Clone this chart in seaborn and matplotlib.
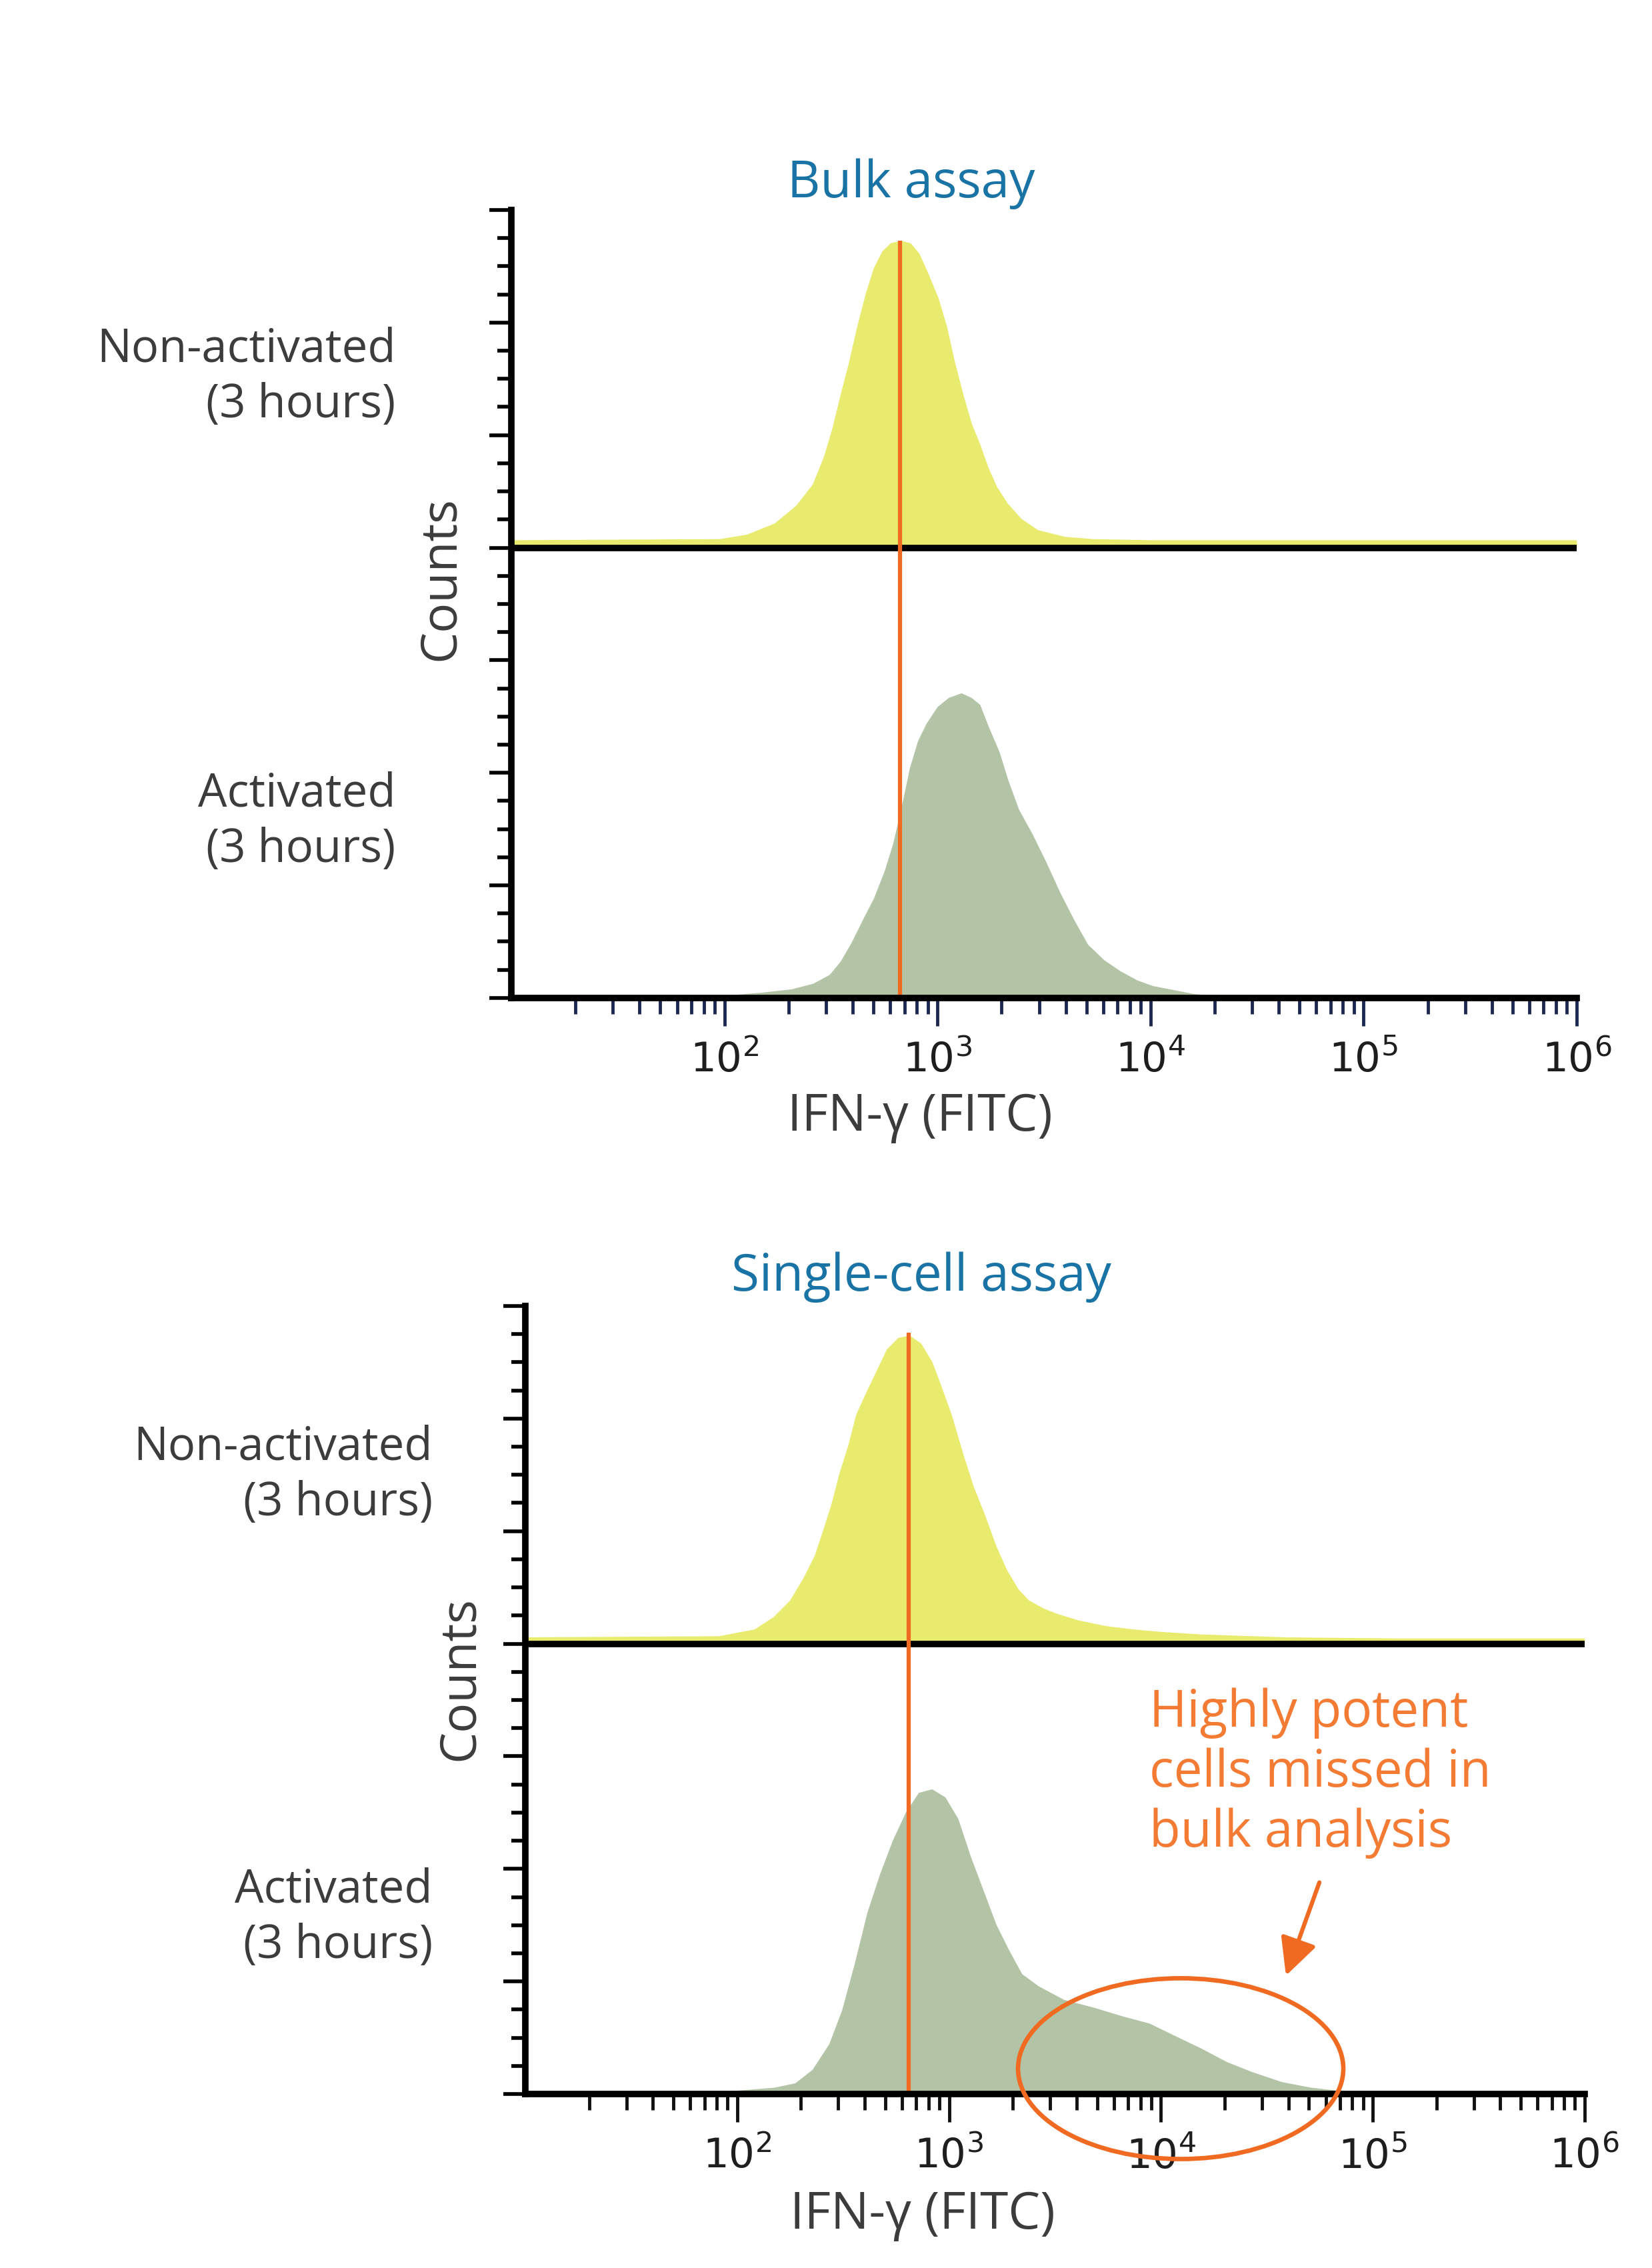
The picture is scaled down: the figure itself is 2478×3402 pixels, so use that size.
import matplotlib
matplotlib.use("Agg")
import matplotlib.pyplot as plt
from matplotlib.patches import Ellipse, FancyArrowPatch
from matplotlib.ticker import FixedLocator, MultipleLocator, NullFormatter, LogLocator
import seaborn as sns
import pandas as pd

# ---- data (x = IFN-g FITC intensity, y = counts in axis units) ----
bulk_non_x = [10, 95, 128, 173, 219, 262, 296, 324, 353, 387, 423, 465, 506, 555, 607, 673,
              746, 817, 893, 1007, 1102, 1202, 1318, 1439, 1581, 1722, 1888, 2123, 2472,
              2958, 3981, 5383, 10233, 1e6]
bulk_non_y = [0.06, 0.07, 0.11, 0.21, 0.37, 0.56, 0.81, 1.06, 1.35, 1.64, 1.96, 2.26, 2.48,
              2.63, 2.70, 2.72, 2.70, 2.61, 2.45, 2.21, 1.96, 1.64, 1.35, 1.10, 0.91, 0.71,
              0.54, 0.39, 0.25, 0.15, 0.09, 0.07, 0.06, 0.06]

bulk_act_x = [50, 95, 149, 207, 262, 314, 354, 399, 450, 507, 571, 625, 684, 748, 817, 893,
              1007, 1135, 1297, 1442, 1578, 1726, 1945, 2128, 2399, 2780, 3228, 3750, 4355,
              5058, 6039, 7228, 8650, 10233, 15849, 22387]
bulk_act_y = [0.0, 0.01, 0.04, 0.07, 0.12, 0.20, 0.32, 0.49, 0.69, 0.88, 1.13, 1.37, 1.69,
              2.04, 2.28, 2.43, 2.58, 2.66, 2.70, 2.66, 2.60, 2.41, 2.18, 1.94, 1.67, 1.45,
              1.20, 0.93, 0.69, 0.47, 0.33, 0.23, 0.15, 0.10, 0.03, 0.0]

sc_non_x = [10, 82, 121, 149, 179, 207, 234, 256, 281, 306, 337, 367, 403, 453, 512, 578,
            652, 736, 828, 908, 1023, 1156, 1300, 1469, 1656, 1866, 2113, 2371, 2767, 3221,
            4093, 5508, 7482, 9772, 15488, 38905, 134896, 1e6]
sc_non_y = [0.05, 0.06, 0.12, 0.23, 0.38, 0.58, 0.78, 1.00, 1.24, 1.51, 1.76, 2.03, 2.20,
            2.40, 2.61, 2.71, 2.73, 2.66, 2.50, 2.30, 2.03, 1.69, 1.39, 1.14, 0.87, 0.65,
            0.48, 0.38, 0.31, 0.26, 0.20, 0.15, 0.12, 0.10, 0.076, 0.05, 0.04, 0.04]

sc_act_x = [94, 150, 189, 228, 274, 315, 361, 415, 476, 547, 631, 724, 832, 957, 1099, 1262,
            1449, 1663, 1914, 2203, 2649, 3491, 4842, 6699, 8831, 11641, 15417, 20370,
            26853, 37239, 51286, 71121, 98628]
sc_act_y = [0.02, 0.05, 0.09, 0.21, 0.44, 0.74, 1.15, 1.61, 1.95, 2.25, 2.50, 2.67, 2.70,
            2.63, 2.44, 2.10, 1.80, 1.50, 1.27, 1.06, 0.95, 0.83, 0.76, 0.68, 0.62, 0.51,
            0.40, 0.28, 0.19, 0.10, 0.05, 0.02, 0.0]

gates = [668, 646]          # orange gate line per panel
gate_tops = [6.73, 6.76]
decades = [100, 1000, 10000, 100000, 1000000]
tick_labels = [r"$10^{2}$", r"$10^{3}$", r"$10^{4}$", r"$10^{5}$", r"$10^{6}$"]
titles = ["Bulk assay", "Single-cell assay"]
row_labels = ["Non-activated\n(3 hours)", "Activated\n(3 hours)"]

# ---- style ----
sns.set_theme(style="ticks")
plt.rcParams["font.family"] = ["Open Sans", "DejaVu Sans"]
plt.rcParams["mathtext.fontset"] = "dejavusans"

YELLOW = "#e9eb6f"
GREEN = "#b3c4a6"
ORANGE = "#f06a22"
TXT_ORANGE = "#f47b33"
BLUE = "#1a73a5"
GREY = "#3c3c3c"
BASE = 4.0  # y offset of the upper histogram

fig = plt.figure(figsize=(24.78, 34.02), dpi=100)

panels = [
    dict(rect=[0.3095, 0.5600, 0.6449, 0.3474], non=(bulk_non_x, bulk_non_y),
         act=(bulk_act_x, bulk_act_y), tickcol="#1c2850",
         title_xy=(0.5517, 0.9189), lab_x=0.2395, lab_y=(0.8336, 0.6376),
         counts_xy=(0.267, 0.745), xlab_xy=(0.5569, 0.507)),
    dict(rect=[0.3180, 0.0767, 0.6412, 0.3475], non=(sc_non_x, sc_non_y),
         act=(sc_act_x, sc_act_y), tickcol="#111111",
         title_xy=(0.5578, 0.4368), lab_x=0.2619, lab_y=(0.3495, 0.1543),
         counts_xy=(0.2785, 0.260), xlab_xy=(0.5585, 0.0229)),
]

for i, p in enumerate(panels):
    ax = fig.add_axes(p["rect"])
    ax.set_xscale("log")
    ax.set_xlim(10, 1e6)
    ax.set_ylim(0, 7)

    non = pd.DataFrame({"x": p["non"][0], "y": [v + BASE for v in p["non"][1]]})
    act = pd.DataFrame({"x": p["act"][0], "y": p["act"][1]})

    ax.fill_between(non["x"], BASE, non["y"], color=YELLOW, lw=0, zorder=2)
    sns.lineplot(data=non, x="x", y="y", ax=ax, color=YELLOW, lw=1.5, zorder=2)
    ax.fill_between(act["x"], 0, act["y"], color=GREEN, lw=0, zorder=2)
    sns.lineplot(data=act, x="x", y="y", ax=ax, color=GREEN, lw=1.5, zorder=2)

    ax.axhline(BASE, color="black", lw=7, zorder=4)
    ax.vlines(gates[i], 0, gate_tops[i], color=ORANGE, lw=4.5, zorder=5)

    for s in ["top", "right"]:
        ax.spines[s].set_visible(False)
    for s in ["left", "bottom"]:
        ax.spines[s].set_linewidth(7)
        ax.spines[s].set_color("black")
        ax.spines[s].set_zorder(6)

    ax.xaxis.set_major_locator(FixedLocator(decades))
    ax.set_xticklabels(tick_labels)
    ax.xaxis.set_minor_locator(LogLocator(base=10, subs=range(2, 10), numticks=20))
    ax.xaxis.set_minor_formatter(NullFormatter())
    ax.tick_params(axis="x", which="major", bottom=True, direction="out", length=30,
                   width=3.5, color=p["tickcol"], labelsize=44, labelcolor="#1e1e1e", pad=17)
    ax.tick_params(axis="x", which="minor", bottom=True, direction="out", length=17,
                   width=3.5, color=p["tickcol"])

    ax.yaxis.set_major_locator(MultipleLocator(1))
    ax.yaxis.set_minor_locator(MultipleLocator(0.25))
    ax.yaxis.set_major_formatter(NullFormatter())
    ax.tick_params(axis="y", which="major", left=True, direction="out", length=24,
                   width=4, color="black")
    ax.tick_params(axis="y", which="minor", left=True, direction="out", length=15,
                   width=4, color="black")
    ax.set_xlabel("")
    ax.set_ylabel("")
    ax.grid(False)

    fig.text(*p["title_xy"], titles[i], color=BLUE, fontsize=55, ha="center", va="center")
    for lab, ly in zip(row_labels, p["lab_y"]):
        fig.text(p["lab_x"], ly, lab, color=GREY, fontsize=49.5, ha="right", va="center",
                 multialignment="right", linespacing=1.25)
    fig.text(*p["counts_xy"], "Counts", color=GREY, fontsize=54, rotation=90,
             ha="center", va="center")
    fig.text(*p["xlab_xy"], "IFN-\u03b3 (FITC)", color=GREY, fontsize=55,
             ha="center", va="center")

# ---- annotation in the single-cell panel ----
fig.text(0.6957, 0.2181, "Highly potent\ncells missed in\nbulk analysis", color=TXT_ORANGE,
         fontsize=55, ha="left", va="center", linespacing=1.23)
fig.add_artist(Ellipse((0.7147, 0.0879), 0.1969, 0.0797, transform=fig.transFigure,
                       fill=False, edgecolor=ORANGE, lw=4.8, zorder=10))
fig.add_artist(FancyArrowPatch(
    (1980 / 2478, 1 - 2821 / 3402), (1928 / 2478, 1 - 2966 / 3402),
    transform=fig.transFigure, arrowstyle="-|>", mutation_scale=85,
    color=ORANGE, lw=4.5, zorder=10))

fig.savefig("out.png", dpi=100, facecolor="white")
